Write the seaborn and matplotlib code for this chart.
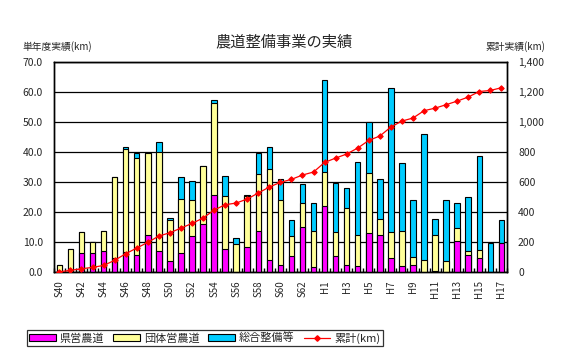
import numpy as np
import pandas as pd
import matplotlib
matplotlib.use("Agg")
import matplotlib.pyplot as plt
import seaborn as sns
from matplotlib.ticker import FuncFormatter, FixedLocator
from matplotlib.patches import Patch
from matplotlib.lines import Line2D

sns.set_theme(style="white")
plt.rcParams['font.family'] = ['Noto Sans CJK JP', 'DejaVu Sans']
plt.rcParams['axes.unicode_minus'] = False

# 年度
years = ['S40', 'S41', 'S42', 'S43', 'S44', 'S45', 'S46', 'S47', 'S48', 'S49',
         'S50', 'S51', 'S52', 'S53', 'S54', 'S55', 'S56', 'S57', 'S58', 'S59',
         'S60', 'S61', 'S62', 'S63', 'H1', 'H2', 'H3', 'H4', 'H5', 'H6',
         'H7', 'H8', 'H9', 'H10', 'H11', 'H12', 'H13', 'H14', 'H15', 'H16', 'H17']

# 県営農道 (km)
kenei = [0, 0, 6.3, 6.3, 7.0, 4.7, 6.7, 5.7, 12.4, 7.0,
         3.8, 6.3, 12.0, 16.0, 25.7, 7.7, 0, 8.3, 13.7, 4.0,
         2.3, 5.3, 15.0, 1.7, 22.0, 5.3, 2.3, 2.0, 13.0, 12.3,
         4.7, 2.0, 2.3, 0, 0.3, 0, 10.3, 5.7, 4.7, 0, 9.7]

# 団体営農道 (km)
dantai = [2.3, 7.7, 7.0, 3.7, 6.7, 27.1, 34.4, 32.3, 27.2, 33.0,
          13.4, 18.0, 12.0, 19.3, 30.6, 17.6, 9.3, 17.0, 19.0, 30.3,
          21.7, 6.7, 8.0, 12.0, 11.3, 8.0, 19.0, 10.3, 20.0, 5.4,
          8.6, 11.7, 2.7, 4.0, 12.0, 3.7, 4.4, 1.3, 2.6, 0, 0]

# 総合整備等 (km)
sogo = [0, 0, 0, 0, 0, 0, 0.7, 1.8, 0, 3.3,
        0.8, 7.5, 6.3, 0, 1.0, 6.7, 2.0, 0.4, 7.0, 7.4,
        7.0, 5.3, 6.3, 9.3, 30.7, 16.4, 6.7, 24.4, 17.0, 13.3,
        48.0, 22.6, 19.0, 42.0, 5.4, 20.3, 8.3, 18.0, 31.4, 9.7, 7.6]

# 累計 (km)
ruikei = [2, 11, 22, 31, 44, 78, 122, 160, 198, 240,
          262, 293, 324, 360, 413, 449, 460, 487, 527, 567,
          598, 618, 647, 667, 731, 760, 787, 827, 878, 907,
          967, 1007, 1027, 1076, 1093, 1116, 1140, 1167, 1204, 1211, 1229]

df = pd.DataFrame({'year': years, 'kenei': kenei, 'dantai': dantai,
                   'sogo': sogo, 'ruikei': ruikei})
df['top_dantai'] = df['kenei'] + df['dantai']
df['top_sogo'] = df['top_dantai'] + df['sogo']

c_pink = '#FF00FF'
c_yellow = '#FFFF99'
c_blue = '#00CCFF'

fig = plt.figure(figsize=(5.67, 3.57), dpi=100)
ax = fig.add_axes([0.095, 0.238, 0.799, 0.588])
ax.set_axisbelow(True)

# 積み上げ棒（上から重ねる）
for col, c in [('top_sogo', c_blue), ('top_dantai', c_yellow), ('kenei', c_pink)]:
    sns.barplot(data=df, x='year', y=col, color=c, width=0.5, ax=ax,
                edgecolor='black', linewidth=0.8, saturation=1, zorder=3)

ax.set_xlim(-0.5, len(years) - 0.5)
ax.set_ylim(0, 70)
ax.set_yticks(np.arange(0, 71, 10))
ax.yaxis.set_major_formatter(FuncFormatter(lambda v, p: f'{v:.1f}'))
ax.grid(axis='y', color='black', linewidth=0.9, zorder=0)
ax.set_xlabel('')
ax.set_ylabel('')

label_pos = list(range(0, 23, 2)) + list(range(24, 41, 2))
ax.set_xticks(label_pos)
ax.set_xticklabels([years[i] for i in label_pos], rotation=90, fontsize=7)
ax.xaxis.set_minor_locator(FixedLocator(np.arange(-0.5, len(years), 1)))
ax.tick_params(axis='x', which='major', length=0, pad=6)
ax.tick_params(axis='x', which='minor', length=3, direction='in', color='black', bottom=True)
ax.tick_params(axis='y', labelsize=7.5, length=0, pad=8)
for s in ax.spines.values():
    s.set_color('black')
    s.set_linewidth(1)

# 累計（右軸）
ax2 = ax.twinx()
sns.lineplot(x=np.arange(len(years)), y=ruikei, ax=ax2, color='#FF0000',
             marker='D', markersize=2.8, markeredgecolor='#FF0000',
             linewidth=0.9, sort=False, zorder=5)
ax2.set_ylim(0, 1400)
ax2.set_yticks(np.arange(0, 1401, 200))
ax2.yaxis.set_major_formatter(FuncFormatter(lambda v, p: f'{int(v):,}'))
ax2.tick_params(axis='y', labelsize=7.5, length=0, pad=8)
ax2.grid(False)
for s in ax2.spines.values():
    s.set_color('black')
    s.set_linewidth(1)

fig.text(0.5, 0.882, '農道整備事業の実績', ha='center', va='center', fontsize=11)
fig.text(0.04, 0.87, '単年度実績(km)', ha='left', va='center', fontsize=7)
fig.text(0.962, 0.87, '累計実績(km)', ha='right', va='center', fontsize=7)

handles = [Patch(facecolor=c_pink, edgecolor='black', linewidth=0.8),
           Patch(facecolor=c_yellow, edgecolor='black', linewidth=0.8),
           Patch(facecolor=c_blue, edgecolor='black', linewidth=0.8),
           Line2D([0], [0], color='#FF0000', marker='D', markersize=2.8, linewidth=0.9)]
labels = ['県営農道', '団体営農道', '総合整備等', '累計(km)']
leg = fig.legend(handles, labels, loc='lower left', bbox_to_anchor=(0.047, 0.03),
                 ncol=4, fontsize=8, frameon=True, fancybox=False,
                 handlelength=2.4, handleheight=0.6, handletextpad=0.35,
                 columnspacing=0.8, borderpad=0.25, borderaxespad=0)
leg.get_frame().set_edgecolor('black')
leg.get_frame().set_linewidth(0.9)

fig.savefig('out.png', dpi=100)
